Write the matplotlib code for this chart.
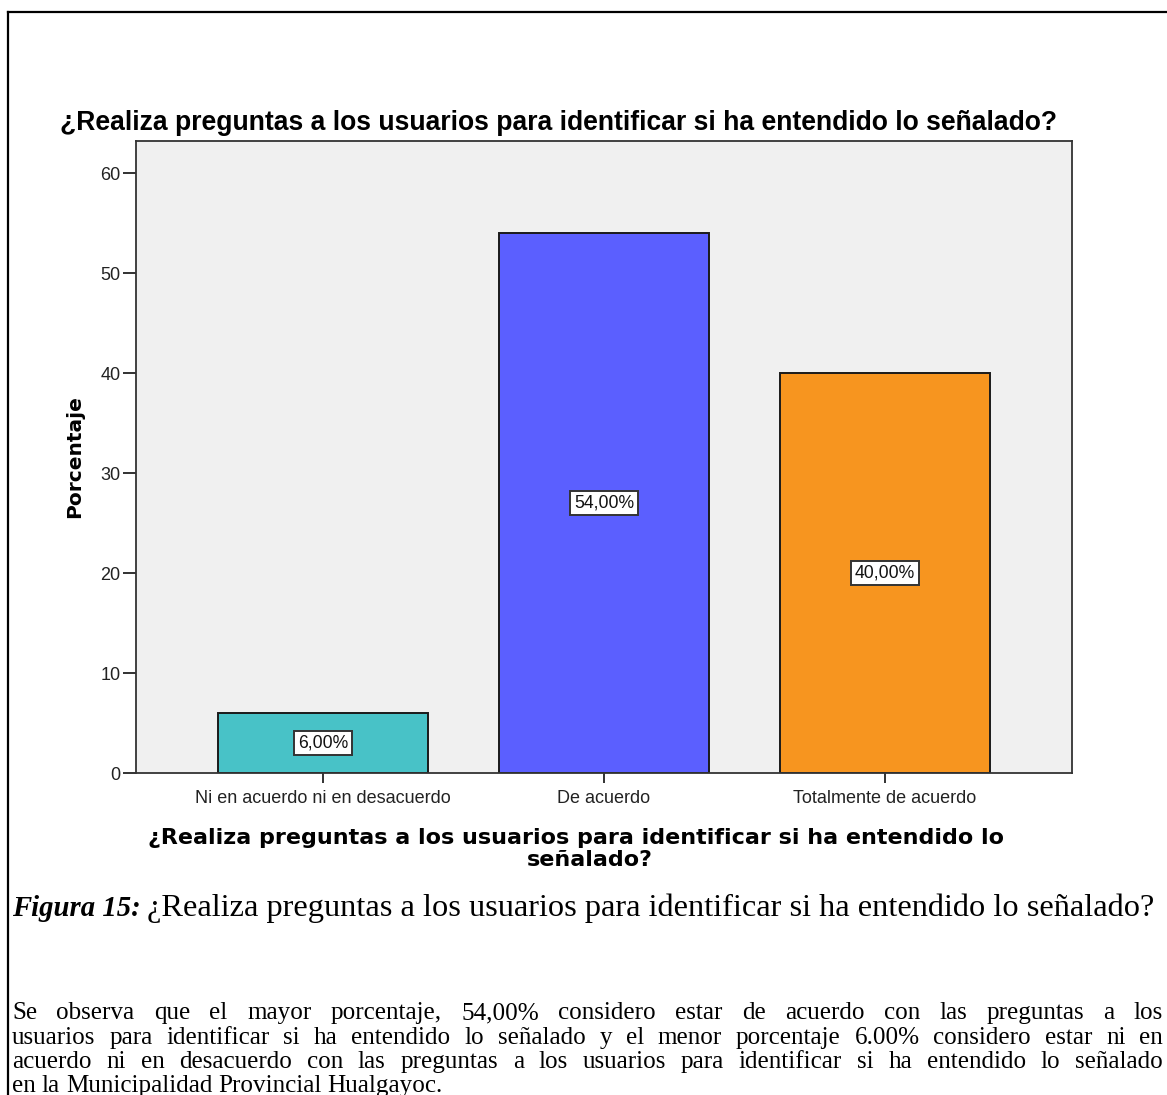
import matplotlib
matplotlib.use('Agg')
import matplotlib.pyplot as plt
from matplotlib.lines import Line2D

# Datos del gráfico
categorias = ['Ni en acuerdo ni en desacuerdo', 'De acuerdo', 'Totalmente de acuerdo']
porcentajes = [6.0, 54.0, 40.0]
colores = ['#48C2C7', '#5B5FFF', '#F7951F']
marcas_y = [0, 10, 20, 30, 40, 50, 60]

titulo = '¿Realiza preguntas a los usuarios para identificar si ha entendido lo señalado?'
titulo_x = ['¿Realiza preguntas a los usuarios para identificar si ha entendido lo', 'señalado?']
figura_num = 'Figura 15:'
figura_txt = '¿Realiza preguntas a los usuarios para identificar si ha entendido lo señalado?'
parrafo = [
    'Se observa que el mayor porcentaje, 54,00% considero estar de acuerdo con las preguntas a los',
    'usuarios para identificar si ha entendido lo señalado y el menor porcentaje 6.00% considero estar ni en',
    'acuerdo ni en desacuerdo con las preguntas a los usuarios para identificar si ha entendido lo señalado',
    'en la Municipalidad Provincial Hualgayoc.',
]

plt.rcParams['font.family'] = 'Liberation Sans'

W, H = 1167, 1095
fig = plt.figure(figsize=(W / 100, H / 100), dpi=100)
fig.patch.set_facecolor('white')


def fx(px):
    return px / W


def fy(py):
    return 1 - py / H


ax = fig.add_axes([fx(136), fy(773), fx(1072) - fx(136), fy(141) - fy(773)])
ax.set_facecolor('#F0F0F0')

pos = list(range(len(categorias)))
ax.bar(pos, porcentajes, width=0.75, color=colores, edgecolor='#1A1A1A', linewidth=1.4, zorder=2)
for xi, v in zip(pos, porcentajes):
    etiqueta = f'{v:.2f}%'.replace('.', ',')
    ax.text(xi, v / 2, etiqueta, ha='center', va='center', fontsize=12.7, color='#111111', zorder=3,
            bbox=dict(boxstyle='square,pad=0.22', fc='white', ec='#333333', lw=1.4))

ax.set_xlim(-0.665, 2.665)
ax.set_ylim(0, 63.2)
ax.set_yticks(marcas_y)
ax.set_xticks(pos)
ax.set_xticklabels(categorias)
ax.tick_params(axis='y', length=9.5, width=1.3, pad=1.5, labelsize=13, colors='#222222')
ax.tick_params(axis='x', length=7, width=1.3, pad=5, labelsize=13, colors='#222222')
for s in ax.spines.values():
    s.set_linewidth(1.3)
    s.set_color('#333333')

# Títulos del gráfico
fig.text(fx(60), fy(130), titulo, fontsize=19.1, fontweight='bold', va='baseline')
fig.text(fx(75), fy(457), 'Porcentaje', rotation=90, ha='center', va='center',
         fontsize=14.5, fontweight='bold', family='DejaVu Sans')
fig.text(fx(576), fy(844), titulo_x[0], ha='center', va='baseline',
         fontsize=16, fontweight='bold', family='DejaVu Sans')
fig.text(fx(590), fy(866), titulo_x[1], ha='center', va='baseline',
         fontsize=16, fontweight='bold', family='DejaVu Sans')

# Marco de la página
fig.add_artist(Line2D([fx(8), fx(8)], [0, fy(12)], transform=fig.transFigure, color='black', lw=1.6))
fig.add_artist(Line2D([fx(8), 1], [fy(12), fy(12)], transform=fig.transFigure, color='black', lw=1.6))

rend = fig.canvas.get_renderer()

# Leyenda de la figura
fig.text(fx(12), fy(916), figura_num, fontsize=20.7, fontweight='bold', fontstyle='italic',
         family='Liberation Serif', va='baseline')
fig.text(fx(147), fy(916), figura_txt, fontsize=23.3, family='Liberation Serif', va='baseline')

# Párrafo justificado
izq, der = 12, 1163
base = [1019, 1044, 1068, 1092]
for i, (linea, yb) in enumerate(zip(parrafo, base)):
    palabras = linea.split()
    objs = [fig.text(0, fy(yb), p, fontsize=18.1, family='Liberation Serif', va='baseline') for p in palabras]
    anchos = [o.get_window_extent(rend).width for o in objs]
    if i < len(parrafo) - 1:
        hueco = (der - izq - sum(anchos)) / (len(palabras) - 1)
    else:
        hueco = 6
    x = izq
    for o, a in zip(objs, anchos):
        o.set_x(fx(x))
        x += a + hueco

fig.savefig('out.png', dpi=100)
